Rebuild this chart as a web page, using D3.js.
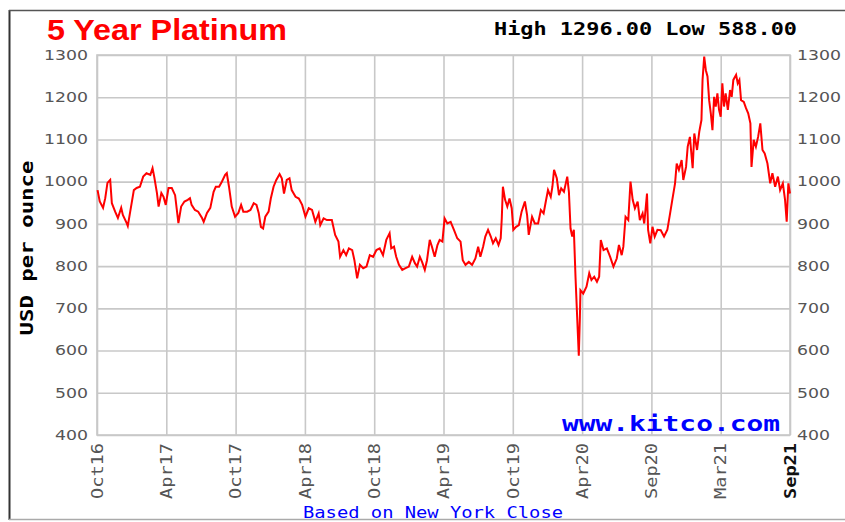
<!DOCTYPE html>
<html>
<head>
<meta charset="utf-8">
<script src="https://cdn.jsdelivr.net/npm/d3@7"></script>
<style>
  body { margin: 0; background: #fff; }
</style>
</head>
<body>
<svg id="chart" width="845" height="522"></svg>
<script>
// ------- data -------

var chartTitle = "5 Year Platinum";
var highPrice = 1296.00, lowPrice = 588.00;

var periodLabels = ["Oct16", "Apr17", "Oct17", "Apr18", "Oct18", "Apr19",
                    "Oct19", "Apr20", "Sep20", "Mar21", "Sep21"];
var periodDays = [0, 126, 252, 378, 504, 630, 756, 882, 1008, 1134, 1260];
var priceTicks = [400, 500, 600, 700, 800, 900, 1000, 1100, 1200, 1300];

// trading day since start of window
var tradingDay = [
  1, 5, 11, 15, 19, 24, 27, 33, 38, 44,
  47, 54, 56, 60, 63, 67, 72, 78, 84, 90,
  97, 101, 104, 109, 112, 117, 121, 125, 130, 136,
  142, 148, 153, 159, 165, 169, 172, 178, 184, 191,
  194, 200, 206, 212, 216, 222, 227, 233, 236, 240,
  245, 251, 257, 262, 266, 273, 279, 285, 290, 294,
  298, 302, 306, 312, 316, 321, 326, 332, 336, 340,
  345, 350, 354, 361, 367, 373, 379, 385, 391, 397,
  403, 406, 412, 418, 427, 433, 439, 442, 448, 453,
  458, 464, 468, 473, 478, 484, 490, 496, 502, 508,
  514, 520, 526, 532, 535, 540, 544, 549, 555, 561,
  567, 573, 578, 582, 587, 591, 596, 600, 605, 609,
  614, 619, 623, 628, 632, 637, 643, 649, 655, 661,
  665, 670, 676, 682, 688, 693, 697, 702, 706, 711,
  716, 720, 725, 730, 734, 736, 738, 742, 746, 750,
  754, 757, 762, 767, 772, 778, 782, 785, 791, 796,
  802, 807, 812, 816, 820, 825, 828, 831, 836, 840,
  844, 849, 855, 858, 861, 864, 867, 870, 873, 876,
  878, 879, 884, 890, 895, 899, 904, 909, 913, 916,
  921, 927, 933, 939, 945, 949, 954, 957, 961, 966,
  970, 974, 978, 983, 987, 992, 995, 1000, 1002, 1006,
  1010, 1014, 1019, 1025, 1031, 1037, 1042, 1046, 1051, 1054,
  1058, 1063, 1066, 1071, 1074, 1078, 1083, 1086, 1091, 1095,
  1099, 1101, 1104, 1107, 1110, 1113, 1116, 1119, 1122, 1125,
  1128, 1131, 1134, 1137, 1140, 1143, 1147, 1151, 1154, 1157,
  1162, 1165, 1168, 1171, 1176, 1180, 1184, 1188, 1190, 1194,
  1198, 1202, 1206, 1210, 1214, 1219, 1224, 1228, 1233, 1238,
  1242, 1247, 1251, 1254, 1257, 1260
];

// New York close, USD per ounce
var closePrice = [
  980, 953, 938, 961, 997, 1004, 949, 929, 914, 938,
  921, 902, 895, 926, 949, 980, 985, 988, 1012, 1020,
  1016, 1032, 1012, 973, 941, 973, 964, 945, 985, 985,
  968, 902, 941, 953, 957, 961, 945, 933, 929, 914,
  905, 926, 938, 976, 988, 988, 1000, 1016, 1020, 988,
  941, 917, 926, 945, 929, 929, 933, 949, 945, 926,
  893, 889, 917, 929, 960, 988, 1004, 1018, 1008, 972,
  1004, 1008, 980, 964, 960, 945, 917, 937, 933, 905,
  925, 897, 913, 909, 909, 874, 858, 822, 838, 826,
  842, 838, 814, 771, 803, 795, 799, 826, 822, 838,
  842, 826, 862, 878, 842, 846, 822, 803, 791, 795,
  799, 822, 807, 799, 822, 810, 791, 814, 862, 846,
  822, 850, 862, 858, 913, 901, 905, 886, 866, 858,
  814, 803, 810, 803, 818, 846, 822, 846, 870, 886,
  870, 854, 866, 850, 866, 914, 988, 957, 941, 960,
  937, 886, 893, 897, 929, 953, 921, 874, 917, 901,
  901, 933, 925, 953, 980, 964, 988, 1028, 1008, 968,
  984, 976, 1012, 976, 889, 870, 886, 775, 680, 588,
  680, 743, 735, 751, 783, 767, 775, 763, 775, 862,
  838, 842, 822, 799, 818, 850, 826, 846, 917, 909,
  1000, 957, 937, 953, 909, 925, 901, 972, 886, 854,
  893, 870, 886, 885, 870, 886, 925, 957, 996, 1043,
  1028, 1051, 1004, 1035, 1083, 1106, 1032, 1114, 1075, 1118,
  1146, 1241, 1296, 1264, 1249, 1193, 1162, 1122, 1201, 1178,
  1209, 1170, 1154, 1233, 1178, 1209, 1170, 1217, 1201, 1241,
  1253, 1233, 1241, 1193, 1189, 1174, 1162, 1138, 1035, 1099,
  1083, 1106, 1138, 1075, 1067, 1043, 996, 1020, 988, 1012,
  980, 996, 957, 905, 996, 972
];

// ------- setup -------

var svg = d3.select("#chart");
var plot = {left: 97, right: 790, top: 55, bottom: 435};

var x = d3.scaleLinear().domain([0, 1260]).range([plot.left, plot.right]);
var y = d3.scaleLinear().domain([400, 1300]).range([plot.bottom, plot.top]);

var mono = "'DejaVu Sans Mono', 'Liberation Mono', monospace";
var sans = "'DejaVu Sans', Verdana, sans-serif";

// outer frame
svg.append("line").attr("x1", 9.5).attr("y1", 10).attr("x2", 9.5).attr("y2", 520)
  .attr("stroke", "#333").attr("stroke-width", 2);
svg.append("line").attr("x1", 9).attr("y1", 10.5).attr("x2", 845).attr("y2", 10.5)
  .attr("stroke", "#555").attr("stroke-width", 1.5);
svg.append("line").attr("x1", 9).attr("y1", 519.5).attr("x2", 845).attr("y2", 519.5)
  .attr("stroke", "#aaa").attr("stroke-width", 1.5);

// ------- grid + axes -------

var gridColor = "#c8c8c8";
var fmt = d3.format("d");

var yLeft = svg.append("g")
  .attr("transform", "translate(" + plot.left + ",0)")
  .call(d3.axisLeft(y).tickValues(priceTicks).tickFormat(fmt)
    .tickSize(-(plot.right - plot.left)).tickPadding(9));

var yRight = svg.append("g")
  .attr("transform", "translate(" + plot.right + ",0)")
  .call(d3.axisRight(y).tickValues(priceTicks).tickFormat(fmt)
    .tickSize(0).tickPadding(7));

var xAxis = svg.append("g")
  .attr("transform", "translate(0," + plot.bottom + ")")
  .call(d3.axisBottom(x).tickValues(periodDays)
    .tickFormat(function(d, i) { return periodLabels[i]; })
    .tickSize(-(plot.bottom - plot.top)));

[yLeft, yRight, xAxis].forEach(function(g) {
  g.select(".domain").remove();
  g.selectAll(".tick line").attr("stroke", gridColor).attr("stroke-width", 1.6);
});

[yLeft, yRight].forEach(function(g) {
  g.selectAll(".tick text").attr("font-family", sans).attr("font-size", 13.5)
    .attr("fill", "#555")
    .attr("textLength", function(d) { return fmt(d).length * 11; })
    .attr("lengthAdjust", "spacingAndGlyphs");
});

xAxis.selectAll(".tick text")
  .attr("font-family", mono).attr("font-size", 15)
  .attr("fill", function(d, i) { return i === periodLabels.length - 1 ? "#111" : "#555"; })
  .attr("font-weight", function(d, i) { return i === periodLabels.length - 1 ? "bold" : "normal"; })
  .attr("text-anchor", "end")
  .attr("dy", "0.35em")
  .attr("transform", "rotate(-90)")
  .attr("x", -8).attr("y", 0)
  .attr("textLength", 56).attr("lengthAdjust", "spacingAndGlyphs");

// plot border
svg.append("rect")
  .attr("x", plot.left).attr("y", plot.top)
  .attr("width", plot.right - plot.left).attr("height", plot.bottom - plot.top)
  .attr("fill", "none").attr("stroke", gridColor).attr("stroke-width", 1.6);

// ------- price line -------

var closes = d3.zip(tradingDay, closePrice);

svg.append("path")
  .datum(closes)
  .attr("fill", "none")
  .attr("stroke", "#ff0000")
  .attr("stroke-width", 2)
  .attr("stroke-linejoin", "miter")
  .attr("d", d3.line()
    .x(function(d) { return x(d[0]); })
    .y(function(d) { return y(d[1]); }));

// ------- texts -------

svg.append("text")
  .attr("x", 47).attr("y", 40)
  .attr("font-family", "'Liberation Sans Narrow', 'Liberation Sans', Arial, sans-serif")
  .attr("font-weight", "bold").attr("font-size", 30)
  .attr("fill", "#ff0000")
  .attr("textLength", 240).attr("lengthAdjust", "spacingAndGlyphs")
  .text(chartTitle);

svg.append("text")
  .attr("x", 494).attr("y", 35)
  .attr("font-family", mono).attr("font-weight", "bold").attr("font-size", 18)
  .attr("fill", "#000")
  .attr("textLength", 303).attr("lengthAdjust", "spacingAndGlyphs")
  .text("High " + d3.format(".2f")(highPrice) + " Low " + d3.format(".2f")(lowPrice));

svg.append("text")
  .attr("transform", "translate(33,248) rotate(-90)")
  .attr("text-anchor", "middle")
  .attr("font-family", mono).attr("font-weight", "bold").attr("font-size", 18)
  .attr("fill", "#000")
  .attr("textLength", 175).attr("lengthAdjust", "spacingAndGlyphs")
  .text("USD per ounce");

svg.append("text")
  .attr("x", 562).attr("y", 431)
  .attr("font-family", mono).attr("font-weight", "bold").attr("font-size", 21)
  .attr("fill", "#0000ff")
  .attr("textLength", 218).attr("lengthAdjust", "spacingAndGlyphs")
  .text("www.kitco.com");

svg.append("text")
  .attr("x", 303).attr("y", 518)
  .attr("font-family", mono).attr("font-size", 16)
  .attr("fill", "#0000ff")
  .attr("textLength", 260).attr("lengthAdjust", "spacingAndGlyphs")
  .text("Based on New York Close");
</script>
</body>
</html>
